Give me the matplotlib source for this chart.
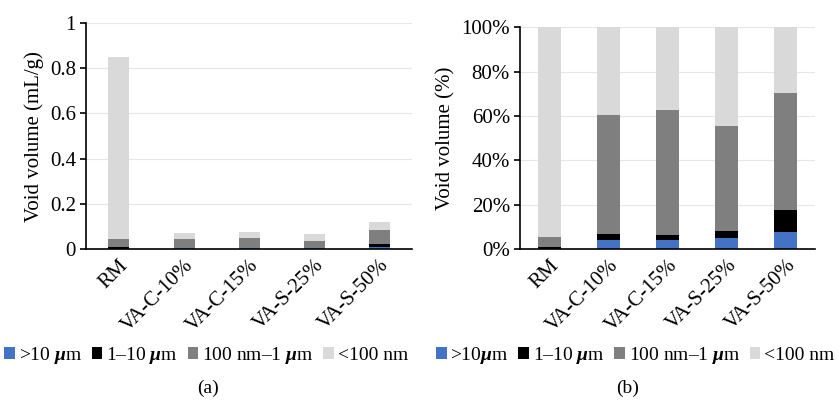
import matplotlib
matplotlib.use('Agg')
import matplotlib.pyplot as plt
from matplotlib.ticker import FuncFormatter
import numpy as np

plt.rcParams['font.family'] = ['Liberation Serif', 'DejaVu Serif']
plt.rcParams['mathtext.fontset'] = 'custom'
plt.rcParams['mathtext.rm'] = 'Liberation Serif'
plt.rcParams['mathtext.it'] = 'Liberation Serif:italic'
plt.rcParams['mathtext.bf'] = 'Liberation Serif:bold:italic'

# samples
samples = ['RM', 'VA-C-10%', 'VA-C-15%', 'VA-S-25%', 'VA-S-50%']

# (a) void volume in mL/g, by pore size class
vol_gt10um = [0.000, 0.003, 0.003, 0.003, 0.009]
vol_1_10um = [0.008, 0.002, 0.002, 0.002, 0.012]
vol_100nm_1um = [0.038, 0.039, 0.042, 0.032, 0.065]
vol_lt100nm = [0.804, 0.028, 0.028, 0.031, 0.036]

# (b) void volume share in %
pct_gt10um = [0.0, 4.0, 4.0, 5.0, 7.5]
pct_1_10um = [1.0, 3.0, 2.5, 3.0, 10.0]
pct_100nm_1um = [4.5, 53.5, 56.0, 47.5, 53.0]
pct_lt100nm = [94.5, 39.5, 37.5, 44.5, 29.5]

colors = ['#4472C4', '#000000', '#7F7F7F', '#D9D9D9']

fig = plt.figure(figsize=(8.38, 4.05), dpi=100)
ax1 = fig.add_axes([0.103, 0.385, 0.389, 0.558])
ax2 = fig.add_axes([0.621, 0.385, 0.352, 0.548])

x = np.arange(len(samples))


def stack(ax, series, width):
    bottom = np.zeros(len(samples))
    handles = []
    for vals, c in zip(series, colors):
        h = ax.bar(x, vals, width, bottom=bottom, color=c, zorder=2)
        bottom += np.array(vals)
        handles.append(h)
    return handles


def style_axes(ax):
    ax.set_xlim(-0.5, len(samples) - 0.5)
    ax.spines['top'].set_visible(False)
    ax.spines['right'].set_visible(False)
    ax.spines['left'].set_linewidth(1.2)
    ax.spines['bottom'].set_linewidth(1.2)
    ax.yaxis.grid(True, color='#E6E6E6', linewidth=0.8, zorder=0)
    ax.set_axisbelow(True)
    ax.tick_params(axis='x', length=0, pad=5)
    ax.tick_params(axis='y', direction='out', length=4, width=1.2, labelsize=15)
    ax.set_xticks(x)
    ax.set_xticklabels(samples, rotation=45, ha='right', rotation_mode='anchor', fontsize=15)


# panel (a)
h1 = stack(ax1, [vol_gt10um, vol_1_10um, vol_100nm_1um, vol_lt100nm], 0.32)
style_axes(ax1)
ax1.set_ylim(0, 1)
ax1.set_yticks(np.arange(0, 1.01, 0.2))
ax1.yaxis.set_major_formatter(FuncFormatter(lambda v, p: '%g' % round(v, 1)))
ax1.set_ylabel('Void volume (mL/g)', fontsize=15)

# panel (b)
h2 = stack(ax2, [pct_gt10um, pct_1_10um, pct_100nm_1um, pct_lt100nm], 0.39)
style_axes(ax2)
ax2.set_ylim(0, 100)
ax2.set_yticks(np.arange(0, 101, 20))
ax2.yaxis.set_major_formatter(FuncFormatter(lambda v, p: '%d%%' % v))
ax2.set_ylabel('Void volume (%)', fontsize=15)

mu = r'$\mathbf{\mu}$'
labels_a = ['>10 ' + mu + 'm', '1\u201310 ' + mu + 'm', '100 nm\u20131 ' + mu + 'm', '<100 nm']
labels_b = ['>10' + mu + 'm', '1\u201310 ' + mu + 'm', '100 nm\u20131 ' + mu + 'm', '<100 nm']

for handles, labels, cx in [(h1, labels_a, 0.246), (h2, labels_b, 0.758)]:
    fig.legend(handles, labels, loc='center', bbox_to_anchor=(cx, 0.123), ncol=4,
               frameon=False, fontsize=14, handlelength=0.55, handleheight=0.55,
               handletextpad=0.2, columnspacing=0.5, borderpad=0)

fig.text(0.248, 0.042, '(a)', ha='center', va='center', fontsize=14)
fig.text(0.749, 0.042, '(b)', ha='center', va='center', fontsize=14)

fig.savefig('out.png', dpi=100)
